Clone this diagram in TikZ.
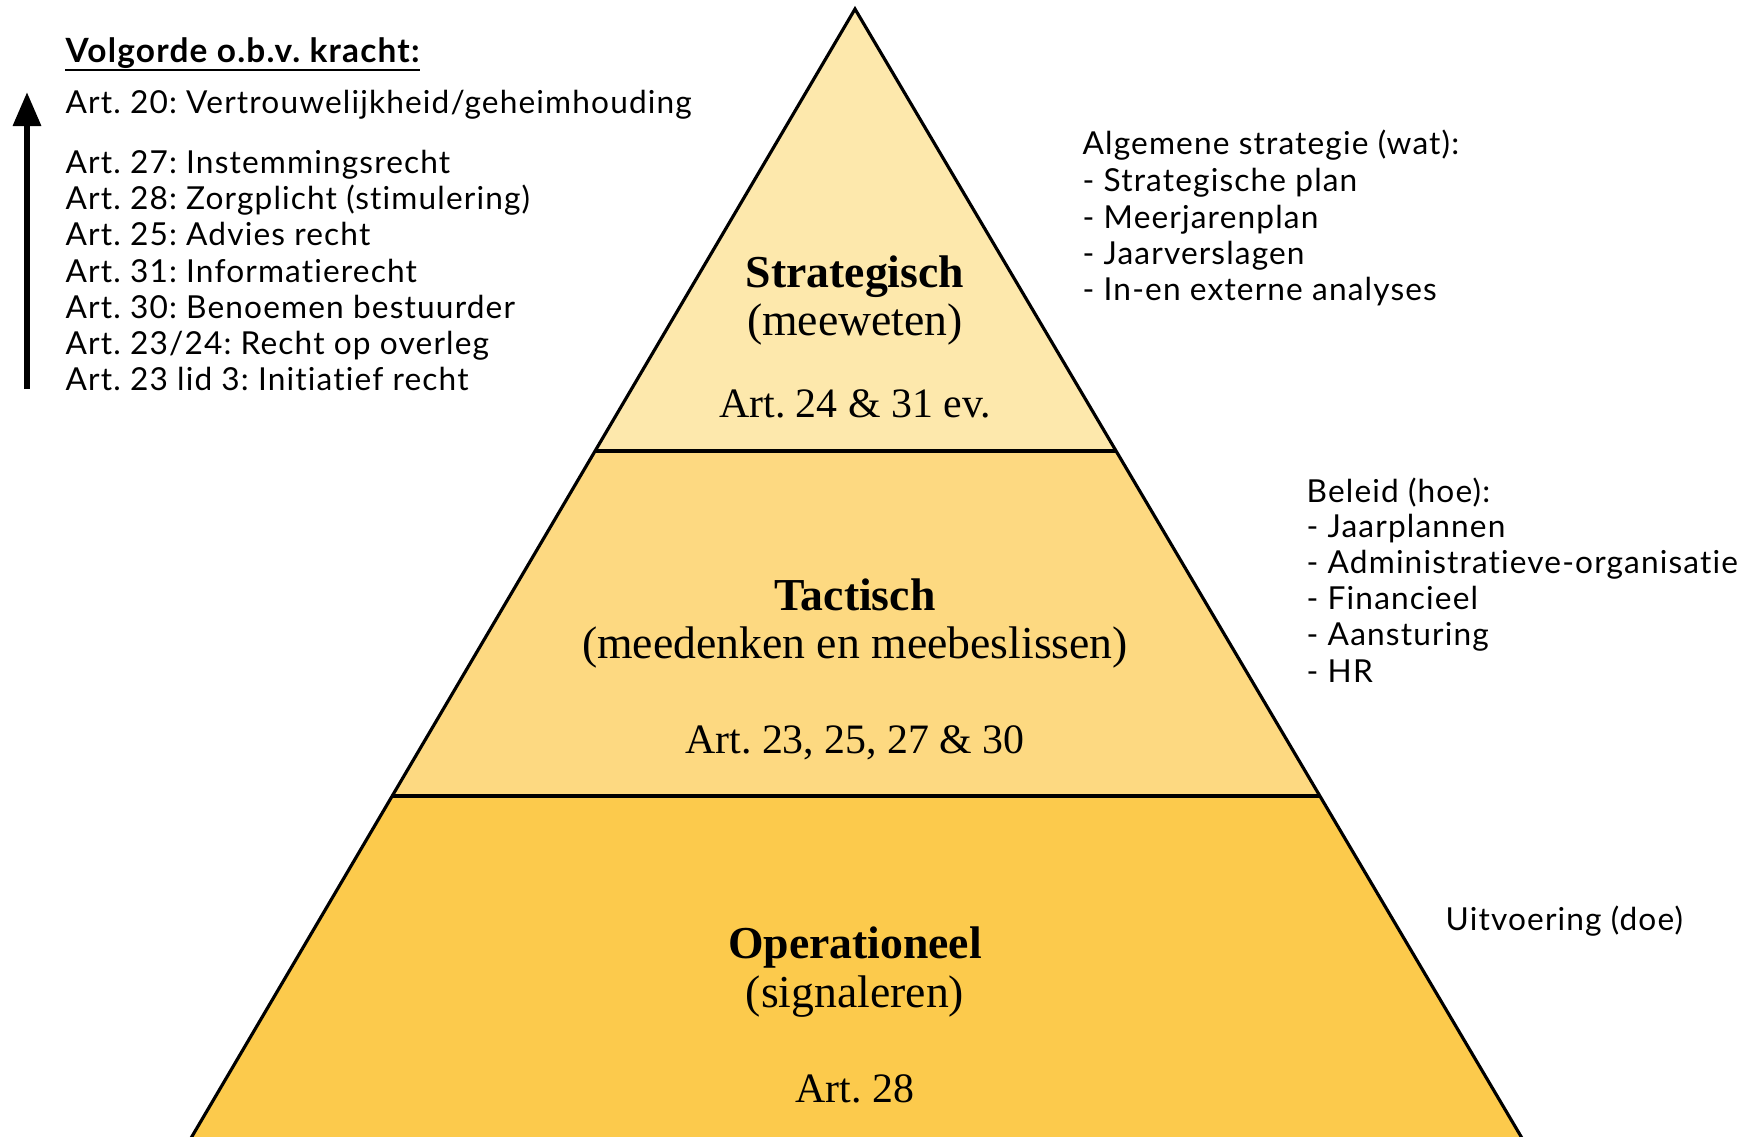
\documentclass[tikz,border=0pt]{standalone}
\usepackage{fontspec}
\setmainfont{Liberation Serif}
\newfontfamily\listfont[LetterSpace=3.6, Ligatures={NoCommon}]{Lato}
\usetikzlibrary{arrows.meta}
\frenchspacing
\definecolor{tierTop}{HTML}{FDE8AC}
\definecolor{tierMid}{HTML}{FDD981}
\definecolor{tierLow}{HTML}{FCCA4C}
\tikzset{
  sidetext/.style={anchor=base west, inner sep=0pt, font=\listfont\fontsize{9}{11}\selectfont},
  sidehead/.style={sidetext, font=\listfont\bfseries\fontsize{9.5}{11}\selectfont},
  tiertitle/.style={anchor=base, inner sep=0pt, font=\bfseries\fontsize{13}{15}\selectfont},
  tiersub/.style={anchor=base, inner sep=0pt, font=\fontsize{13}{15}\selectfont},
  tierart/.style={anchor=base, inner sep=0pt, font=\fontsize{11.9}{14}\selectfont},
  edge/.style={line width=0.9pt, line join=miter},
  divider/.style={line width=1.3pt},
}
\begin{document}
\begin{tikzpicture}[x=0.01cm, y=-0.01cm]
  \useasboundingbox (0,0) rectangle (1751,1136);
  \begin{scope}
    \clip (0,0) rectangle (1751,1136);
    % pyramid corners
    \coordinate (apex) at (855,9);
    \coordinate (l1) at (595,451);  \coordinate (r1) at (1116,451);
    \coordinate (l2) at (392,796);  \coordinate (r2) at (1320,796);
    \coordinate (l3) at (184,1150); \coordinate (r3) at (1529,1150);
    % tiers
    \fill[tierTop] (apex) -- (r1) -- (l1) -- cycle;
    \fill[tierMid] (l1) -- (r1) -- (r2) -- (l2) -- cycle;
    \fill[tierLow] (l2) -- (r2) -- (r3) -- (l3) -- cycle;
    \draw[edge] (l3) -- (apex) -- (r3);
    \draw[divider] (l1) -- (r1);
    \draw[divider] (l2) -- (r2);
  \end{scope}

  % tier labels
  \node[tiertitle] (strat) at (855,287) {Strategisch};
  \node[tiersub] (stratsub) at (855,335) {(meeweten)};
  \node[tierart] (stratart) at (855,417) {Art. 24 \& 31 ev.};
  \node[tiertitle] (tact) at (855,610) {Tactisch};
  \node[tiersub] (tactsub) at (855,658) {(meedenken en meebeslissen)};
  \node[tierart] (tactart) at (855,753) {Art. 23, 25, 27 \& 30};
  \node[tiertitle] (oper) at (855,958) {Operationeel};
  \node[tiersub] (opersub) at (855,1007) {(signaleren)};
  \node[tierart] (operart) at (855,1102) {Art. 28};

  % ranking list
  \node[sidehead] (ranktitle) at (65,62) {Volgorde o.b.v. kracht:};
  \draw[line width=0.7pt] ([yshift=-2.2pt]ranktitle.base west) -- ([yshift=-2.2pt]ranktitle.base east);
  \node[sidetext] (r20) at (65,113) {Art. 20: Vertrouwelijkheid/geheimhouding};
  \node[sidetext] (r27) at (65,173) {Art. 27: Instemmingsrecht};
  \node[sidetext] (r28) at (65,209) {Art. 28: Zorgplicht (stimulering)};
  \node[sidetext] (r25) at (65,245) {Art. 25: Advies recht};
  \node[sidetext] (r31) at (65,282) {Art. 31: Informatierecht};
  \node[sidetext] (r30) at (65,318) {Art. 30: Benoemen bestuurder};
  \node[sidetext] (r2324) at (65,354) {Art. 23/24: Recht op overleg};
  \node[sidetext] (r23) at (65,390) {Art. 23 lid 3: Initiatief recht};
  \coordinate (arrowlow) at (27,389);
  \coordinate (arrowhigh) at (27,92);
  \draw[line width=1.8pt, -{Triangle[length=0.34cm, width=0.27cm]}] (arrowlow) -- (arrowhigh);

  % strategic notes
  \node[sidetext] (s0) at (1082,154) {Algemene strategie (wat):};
  \node[sidetext] (s1) at (1082,191) {- Strategische plan};
  \node[sidetext] (s2) at (1082,228) {- Meerjarenplan};
  \node[sidetext] (s3) at (1082,264) {- Jaarverslagen};
  \node[sidetext] (s4) at (1082,300) {- In-en externe analyses};

  % tactical notes
  \node[sidetext] (t0) at (1306,502) {Beleid (hoe):};
  \node[sidetext] (t1) at (1306,537) {- Jaarplannen};
  \node[sidetext] (t2) at (1306,573) {- Administratieve-organisatie};
  \node[sidetext] (t3) at (1306,609) {- Financieel};
  \node[sidetext] (t4) at (1306,645) {- Aansturing};
  \node[sidetext] (t5) at (1306,682) {- HR};

  % operational note
  \node[sidetext] (o0) at (1445,930) {Uitvoering (doe)};
\end{tikzpicture}
\end{document}
